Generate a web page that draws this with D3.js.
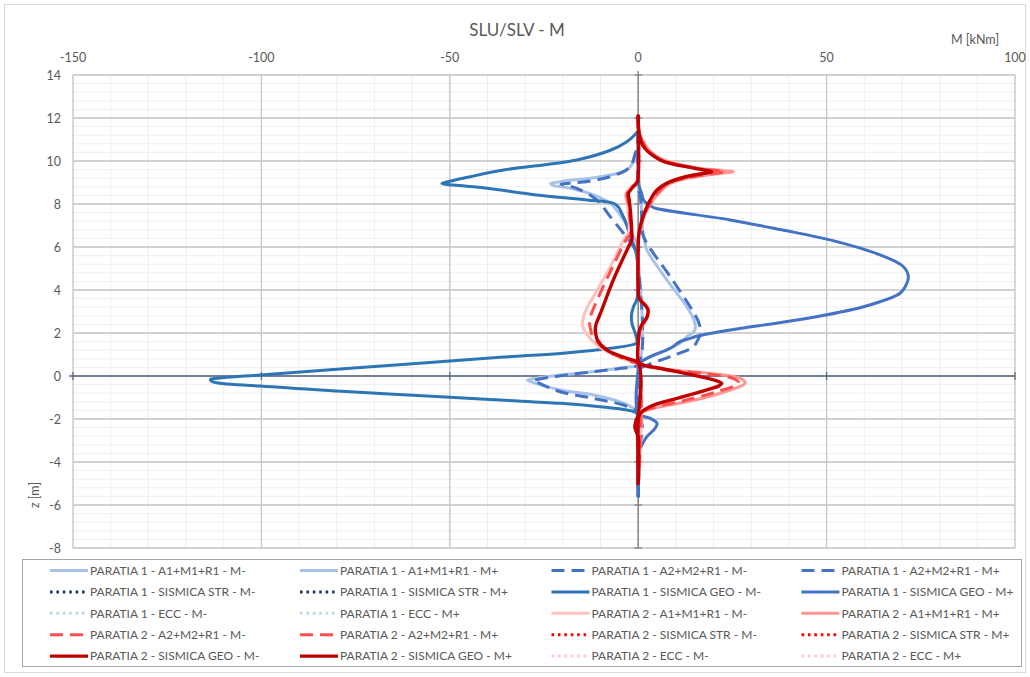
<!DOCTYPE html>
<html>
<head>
<meta charset="utf-8">
<script src="https://cdn.jsdelivr.net/npm/d3@7"></script>
<style>
  html, body { margin: 0; padding: 0; background: #ffffff; }
  svg { display: block; }
</style>
</head>
<body>
<svg id="chart" width="1030" height="677"></svg>
<script>
// Bending moment envelopes M(z) for two retaining walls, each point is [z (m), M (kNm)]
const xTicks = [-150, -100, -50, 0, 50, 100];
const zTicks = [14, 12, 10, 8, 6, 4, 2, 0, -2, -4, -6, -8];

// PARATIA 1
const p1A1Min = [[11.4,0],[10.7,-0.1],[10.12,-0.8],[9.58,-3],[9.27,-10.1],[9.04,-20.7],[8.95,-23.3],[8.87,-22.5],[8.73,-18],[8.42,-11.9],[8.03,-7.4],[7.26,-3.9],[6.48,-1.2],[6.1,-0.3],[5.5,0],[0.55,0],[0.4,-4],[0.2,-12],[0.05,-20.7],[-0.1,-27],[-0.19,-29.4],[-0.3,-28],[-0.65,-20.7],[-0.88,-11.9],[-1.2,-4.8],[-1.5,-1.2],[-1.66,-0.2],[-2,0],[-5.6,0]];
const p1A1Max = [[11.4,0],[8.8,0],[8.5,0.5],[8,0.8],[7.3,1],[6.8,1.2],[6.2,1.8],[5.86,2.3],[4.47,7.6],[3.22,12.9],[2.6,14.8],[2.29,15.2],[2.06,14.8],[1.83,12.9],[1.53,11.1],[1.07,5.8],[0.74,1.4],[0.5,0.3],[0.3,0],[-5.6,0]];
const p1A2Min = [[11.4,0],[10.6,-0.2],[10.36,-0.8],[9.74,-2.1],[9.27,-7.4],[8.99,-16.3],[8.93,-20.5],[8.86,-19],[8.73,-16.3],[8.19,-11],[7.41,-7.4],[6.64,-3.9],[6.01,-1.2],[5.6,-0.2],[5.2,0],[0.55,0],[0.35,-5],[0.2,-11.9],[0,-21],[-0.15,-26.5],[-0.22,-27.9],[-0.32,-26.5],[-0.73,-20.7],[-1.04,-11.9],[-1.35,-3.9],[-1.6,-0.8],[-1.8,0],[-5.6,0]];
const p1A2Max = [[11.4,0],[8.8,0],[8.3,0.6],[7.5,0.9],[6.6,1.2],[6.17,2.3],[4.62,8.5],[3.22,13.8],[2.6,15.8],[2.29,16.4],[2.0,16.6],[1.7,15.9],[1.36,14.6],[0.9,8.5],[0.5,2.3],[0.3,0.3],[0,0],[-1.8,0],[-2.1,0.8],[-2.5,1.2],[-2.9,0.8],[-3.3,0],[-5.6,0]];
const p1StrMin = [];
const p1StrMax = [];
const p1GeoMin = [[11.4,0],[11.2,-1],[10.9,-3],[10.5,-7.4],[10.05,-16.3],[9.58,-35.7],[9.27,-44.6],[9.05,-50.2],[8.95,-52.1],[8.88,-49],[8.73,-40.1],[8.42,-26.9],[8.19,-13.6],[8.03,-6.5],[7.85,-5.2],[7.72,-4.8],[7.1,-3.2],[6.48,-2.1],[5.9,-0.8],[5.3,-0.2],[4.5,-0.1],[3.6,-0.3],[3.2,-1.3],[2.8,-1.8],[2.4,-1.6],[2.0,-0.8],[1.6,-0.3],[1.52,-0.5],[1.29,-7.4],[1.05,-20.7],[0.87,-36.6],[0.36,-76.4],[0.05,-100.3],[-0.1,-111.5],[-0.15,-113.5],[-0.26,-113],[-0.47,-100.3],[-0.73,-76.4],[-0.99,-49.9],[-1.12,-36.6],[-1.27,-20.7],[-1.43,-10.1],[-1.58,-3],[-1.75,-0.3],[-2.2,-0.1],[-3,0],[-5.6,0]];
const p1GeoMax = [[11.4,0],[9.5,0.1],[8.8,0.3],[8.5,0.9],[8.19,1.4],[8.0,2.5],[7.88,3.6],[7.8,4.6],[7.26,24.4],[6.8,38],[6.33,50.9],[5.63,64.2],[5.08,70.4],[4.62,71.7],[4.2,71],[3.85,69.5],[3.22,59.8],[2.6,42.1],[2.14,24.4],[1.85,15.5],[1.75,13.8],[1.6,11.1],[1.29,8.5],[0.9,3.2],[0.59,0.3],[0.3,0],[-1.74,0],[-1.97,3.2],[-2.2,5],[-2.43,4.5],[-2.82,2.3],[-3.2,1],[-3.5,0.3],[-3.8,0],[-5.6,0]];
const p1EccMin = [];
const p1EccMax = [];

// PARATIA 2
const p2A1Min = [[12.1,0],[9.3,0],[9.0,-0.5],[8.7,-2.5],[8.42,-3.4],[8.1,-3.0],[7.5,-2.6],[6.7,-2.5],[6.48,-3.4],[5.08,-7.4],[3.69,-11.9],[3.1,-13.8],[2.76,-14.5],[2.4,-14.8],[2.14,-14.3],[1.98,-13.8],[1.44,-11],[0.98,-6.6],[0.67,-2.1],[0.55,0],[-5,0]];
const p2A1Max = [[12.1,0],[11.3,0.3],[10.7,2],[10.12,5.8],[9.66,16.4],[9.55,23],[9.5,25.3],[9.44,23],[9.3,16.4],[8.96,8.5],[8.42,5],[7.72,2.3],[7,0.8],[6.4,0.1],[6,0],[4.2,0],[3.6,0.4],[3.3,2],[3.05,2.8],[2.7,2.4],[2.3,1],[1.8,0.2],[1.2,0],[0.7,0],[0.5,1.5],[0.3,8],[0.12,19.1],[-0.1,27],[-0.3,28.4],[-0.4,28],[-0.8,21.8],[-1.2,12.9],[-1.5,4.1],[-1.74,0.5],[-2,0],[-5,0]];
const p2A2Min = [[12.1,0],[9.3,0],[9.0,-0.4],[8.7,-2.2],[8.45,-3],[8.1,-2.7],[7.5,-2.3],[6.6,-2.1],[6.4,-3],[5.0,-7],[3.5,-11],[2.8,-12.6],[2.45,-12.9],[2.14,-12.6],[1.9,-12.2],[1.29,-9.2],[0.9,-5],[0.65,-1.5],[0.55,0],[-5,0]];
const p2A2Max = [[12.1,0],[11.3,0.3],[10.7,1.8],[10.1,5.6],[9.65,15.5],[9.55,21],[9.5,23],[9.44,21],[9.3,15.5],[8.96,8],[8.42,4.8],[7.72,2.2],[7,0.7],[6.4,0.1],[6,0],[4.2,0],[3.6,0.35],[3.3,1.9],[3.05,2.7],[2.7,2.3],[2.3,0.9],[1.8,0.2],[1.2,0],[0.7,0],[0.5,1.3],[0.3,7.5],[0.1,18],[-0.1,25],[-0.3,26.6],[-0.4,26.2],[-0.75,20.5],[-1.15,12],[-1.45,4.5],[-1.72,0.6],[-2,0],[-5,0]];
const p2StrMin = [];
const p2StrMax = [];
const p2GeoMin = [[12.1,0],[9.3,0],[9.0,-0.3],[8.73,-1.7],[8.5,-2.6],[8.2,-2.4],[7.72,-2.1],[6.65,-1.7],[6.33,-1.7],[6.0,-2.6],[4.47,-6.6],[2.92,-10],[2.4,-11.2],[2.14,-11.4],[1.9,-11.2],[1.67,-10.8],[1.2,-8.3],[0.82,-3],[0.6,0],[-1.8,0],[-2.1,-0.6],[-2.36,-0.9],[-2.6,-0.5],[-2.85,0],[-5,0]];
const p2GeoMax = [[12.1,0],[11.5,0.1],[11,0.6],[10.67,1.4],[10.05,5.8],[9.67,14.7],[9.55,18.5],[9.5,19.5],[9.44,18],[9.35,14.7],[9.04,8.5],[8.65,5],[8.19,3.2],[7.7,1.9],[6.95,0.5],[6.5,0.1],[6.0,0],[4.2,0],[3.6,0.3],[3.3,1.8],[3.07,2.6],[2.7,2.2],[2.4,1],[2.1,0.3],[1.6,0],[0.7,0],[0.55,0.8],[0.36,5.8],[-0.03,16.4],[-0.25,21.2],[-0.34,22.2],[-0.45,21.5],[-0.65,18.2],[-1.04,10.3],[-1.35,4.1],[-1.66,1],[-1.85,0.2],[-2.1,0],[-5,0]];
const p2EccMin = [];
const p2EccMax = [];

// series in drawing / legend order
const series = [
  { name: "PARATIA 1 - A1+M1+R1 - M-",     data: p1A1Min,  color: "#a9c3e8", dash: "solid" },
  { name: "PARATIA 1 - A1+M1+R1 - M+",     data: p1A1Max,  color: "#a9c3e8", dash: "solid" },
  { name: "PARATIA 1 - A2+M2+R1 - M-",     data: p1A2Min,  color: "#4472c4", dash: "dash" },
  { name: "PARATIA 1 - A2+M2+R1 - M+",     data: p1A2Max,  color: "#4472c4", dash: "dash" },
  { name: "PARATIA 1 - SISMICA STR - M-",  data: p1StrMin, color: "#1f3864", dash: "dot" },
  { name: "PARATIA 1 - SISMICA STR - M+",  data: p1StrMax, color: "#1f3864", dash: "dot" },
  { name: "PARATIA 1 - SISMICA GEO - M-",  data: p1GeoMin, color: "#2e75b6", dash: "solid" },
  { name: "PARATIA 1 - SISMICA GEO - M+",  data: p1GeoMax, color: "#4472c4", dash: "solid" },
  { name: "PARATIA 1 - ECC - M-",          data: p1EccMin, color: "#bdd7ee", dash: "dot" },
  { name: "PARATIA 1 - ECC - M+",          data: p1EccMax, color: "#bdd7ee", dash: "dot" },
  { name: "PARATIA 2 - A1+M1+R1 - M-",     data: p2A1Min,  color: "#ffc0c0", dash: "solid" },
  { name: "PARATIA 2 - A1+M1+R1 - M+",     data: p2A1Max,  color: "#ff9797", dash: "solid" },
  { name: "PARATIA 2 - A2+M2+R1 - M-",     data: p2A2Min,  color: "#ff4f4f", dash: "dash" },
  { name: "PARATIA 2 - A2+M2+R1 - M+",     data: p2A2Max,  color: "#ff4f4f", dash: "dash" },
  { name: "PARATIA 2 - SISMICA STR - M-",  data: p2StrMin, color: "#ff0000", dash: "dot" },
  { name: "PARATIA 2 - SISMICA STR - M+",  data: p2StrMax, color: "#ff0000", dash: "dot" },
  { name: "PARATIA 2 - SISMICA GEO - M-",  data: p2GeoMin, color: "#c00000", dash: "solid" },
  { name: "PARATIA 2 - SISMICA GEO - M+",  data: p2GeoMax, color: "#c00000", dash: "solid" },
  { name: "PARATIA 2 - ECC - M-",          data: p2EccMin, color: "#ffc7c7", dash: "dot" },
  { name: "PARATIA 2 - ECC - M+",          data: p2EccMax, color: "#ffc7c7", dash: "dot" }
];

const FONT = "Lato, 'Liberation Sans', Arial, sans-serif";
const TEXT = "#595959";

const svg = d3.select("#chart");

// chart frame
svg.append("rect").attr("x", 4.5).attr("y", 4.5).attr("width", 1021).attr("height", 668)
  .attr("fill", "#fff").attr("stroke", "#d9d9d9");

const plot = { left: 73, right: 1015, top: 75, bottom: 548 };
const x = d3.scaleLinear().domain([-150, 100]).range([plot.left, plot.right]);
const y = d3.scaleLinear().domain([-8, 14]).range([plot.bottom, plot.top]);

const grid = svg.append("g");
// minor grid
grid.selectAll(".vminor").data(d3.range(-150, 101, 10)).join("line")
  .attr("x1", d => x(d)).attr("x2", d => x(d)).attr("y1", plot.top).attr("y2", plot.bottom)
  .attr("stroke", "#efefef").attr("stroke-width", 1);
grid.selectAll(".hminor").data(d3.range(0, 56).map(i => -8 + i * 0.4)).join("line")
  .attr("x1", plot.left).attr("x2", plot.right).attr("y1", d => y(d)).attr("y2", d => y(d))
  .attr("stroke", "#efefef").attr("stroke-width", 1);
// major grid
grid.selectAll(".vmajor").data(xTicks).join("line")
  .attr("x1", d => x(d)).attr("x2", d => x(d)).attr("y1", plot.top).attr("y2", plot.bottom)
  .attr("stroke", "#c6c6c6").attr("stroke-width", 1.3);
grid.selectAll(".hmajor").data(zTicks).join("line")
  .attr("x1", plot.left).attr("x2", plot.right).attr("y1", d => y(d)).attr("y2", d => y(d))
  .attr("stroke", "#c6c6c6").attr("stroke-width", 1.3);

// axis lines crossing at the origin
const axes = svg.append("g");
axes.append("line").attr("x1", x(0)).attr("x2", x(0)).attr("y1", plot.top - 4).attr("y2", plot.bottom)
  .attr("stroke", "#7f7f7f").attr("stroke-width", 1.3);
axes.append("line").attr("x1", plot.left - 4).attr("x2", plot.right).attr("y1", y(0)).attr("y2", y(0))
  .attr("stroke", "#56657a").attr("stroke-width", 1.3);
axes.selectAll(".zt").data(zTicks).join("line")
  .attr("x1", x(0) - 4).attr("x2", x(0) + 4).attr("y1", d => y(d)).attr("y2", d => y(d))
  .attr("stroke", "#7f7f7f").attr("stroke-width", 1.2);
axes.selectAll(".xt").data(xTicks).join("line")
  .attr("x1", d => x(d)).attr("x2", d => x(d)).attr("y1", y(0) - 4).attr("y2", y(0) + 4)
  .attr("stroke", "#56657a").attr("stroke-width", 1.2);

// tick labels (plain hyphen for negatives)
svg.append("g").selectAll("text").data(xTicks).join("text")
  .attr("x", d => x(d)).attr("y", 62).attr("text-anchor", "middle")
  .attr("font-family", FONT).attr("font-size", 12.5).attr("fill", TEXT)
  .text(d => String(d));
svg.append("g").selectAll("text").data(zTicks).join("text")
  .attr("x", 61).attr("y", d => y(d) + 4.5).attr("text-anchor", "end")
  .attr("font-family", FONT).attr("font-size", 12.5).attr("fill", TEXT)
  .text(d => String(d));

// titles
svg.append("text").attr("x", 517).attr("y", 36).attr("text-anchor", "middle")
  .attr("font-family", FONT).attr("font-size", 17).attr("fill", TEXT).text("SLU/SLV - M");
svg.append("text").attr("x", 975).attr("y", 44).attr("text-anchor", "middle")
  .attr("font-family", FONT).attr("font-size", 12.5).attr("fill", TEXT).text("M [kNm]");
svg.append("text").attr("transform", "translate(39,495) rotate(-90)").attr("text-anchor", "middle")
  .attr("font-family", FONT).attr("font-size", 12.5).attr("fill", TEXT).text("z [m]");

// line styles
function styleLine(sel, s) {
  sel.attr("fill", "none").attr("stroke", s.color)
    .attr("stroke-width", s.color === "#c00000" ? 3.4 : 3)
    .attr("stroke-linejoin", "round");
  if (s.dash === "dash") sel.attr("stroke-dasharray", "13,7");
  else if (s.dash === "dot") sel.attr("stroke-dasharray", "2.6,3.8");
  else sel.attr("stroke-linecap", "round");
  return sel;
}

const line = d3.line()
  .x(d => x(d[1]))
  .y(d => y(d[0]))
  .curve(d3.curveCatmullRom.alpha(0.5));

const curves = svg.append("g");
series.forEach(s => {
  if (s.data.length < 2) return;
  styleLine(curves.append("path").datum(s.data).attr("d", line), s);
});

// legend
const lg = svg.append("g");
lg.append("rect").attr("x", 22.5).attr("y", 559.5).attr("width", 999).attr("height", 107)
  .attr("fill", "#fff").attr("stroke", "#a6a6a6");
const colX = [50, 300, 551.5, 801.5];
series.forEach((s, i) => {
  const r = Math.floor(i / 4), c = i % 4;
  const ly = 570.5 + r * 21.4;
  const l = lg.append("line").attr("x1", colX[c]).attr("x2", colX[c] + 38).attr("y1", ly).attr("y2", ly);
  styleLine(l, s).attr("stroke-linecap", "butt");
  lg.append("text").attr("x", colX[c] + 40).attr("y", ly + 4.3)
    .attr("font-family", FONT).attr("font-size", 12).attr("fill", TEXT).text(s.name);
});
</script>
</body>
</html>
